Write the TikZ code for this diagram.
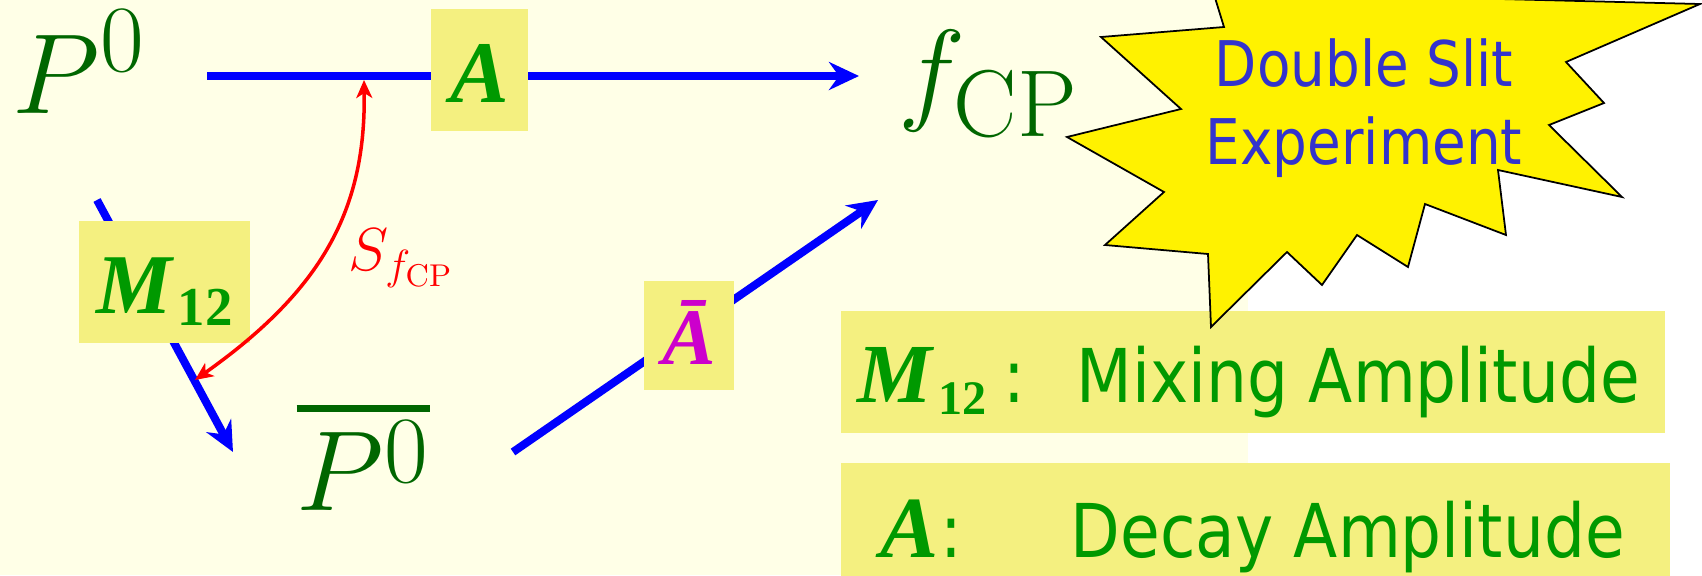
\documentclass[tikz,border=0pt]{standalone}
\usepackage{fontspec}
\usepackage{xcolor}
\usepackage{graphicx}
\usepackage{tikz}
\usetikzlibrary{arrows.meta, positioning}

\newfontfamily\tnrfont{Liberation Serif}
\newfontfamily\tahfont{DejaVu Sans}

\definecolor{cream}{RGB}{255,255,231}
\definecolor{boxyellow}{RGB}{244,240,128}
\definecolor{mathgreen}{RGB}{0,102,0}
\definecolor{textgreen}{RGB}{0,153,0}
\definecolor{slitblue}{RGB}{51,51,204}
\definecolor{ampmagenta}{RGB}{204,0,204}

\newcommand{\boldit}[1]{{\tnrfont\bfseries\itshape #1}}
\newcommand{\mixsym}[1]{\boldit{M}\kern0.06cm\raisebox{-0.12cm}{\fontsize{#1}{#1}\selectfont\tnrfont\bfseries 12}}
\newcommand{\tahoma}[1]{\scalebox{0.87}[1]{\tahfont #1}}
\newcommand{\statemath}[1]{\scalebox{1.302}{$#1$}}
\newcommand{\barstate}[1]{\vbox{\hrule height 0.07cm\kern0.09cm\hbox{#1}}}

\begin{document}
\begin{tikzpicture}[
  x=0.01cm, y=-0.01cm,
  flow/.style={draw=blue, line width=0.08cm,
    -{Stealth[length=0.3cm, width=0.28cm, inset=0.1cm]}},
  phase/.style={draw=red, line width=0.035cm,
    {Stealth[length=0.18cm, width=0.16cm, inset=0.05cm]}-{Stealth[length=0.18cm, width=0.16cm, inset=0.05cm]}},
  state/.style={anchor=base west, inner sep=0pt, text=mathgreen,
    font=\fontsize{24.88}{30}\selectfont},
  phaselabel/.style={anchor=base west, inner sep=0pt, text=red,
    font=\fontsize{17.9}{20}\selectfont},
  ampbox/.style={rectangle, fill=boxyellow, inner sep=0pt, text centered,
    text depth=0pt, text=textgreen, font=\fontsize{25}{28}\selectfont},
  legendbox/.style={rectangle, fill=boxyellow, inner sep=0pt, anchor=north west},
  legendsym/.style={anchor=base west, inner sep=0pt, text=textgreen,
    font=\fontsize{23.9}{27}\selectfont},
  legendtext/.style={anchor=base west, inner sep=0pt, text=textgreen,
    font=\fontsize{21.1}{25}\selectfont},
  slittext/.style={anchor=base, inner sep=0pt, text=slitblue,
    font=\fontsize{17.9}{20}\selectfont},
  burst/.style={fill=yellow, draw=black, line width=0.5pt, line join=miter}
]

  \useasboundingbox (0,0) rectangle (1702,575);
  \clip (0,0) rectangle (1702,575);
  \fill[cream] (0,0) rectangle (1248,575);
  \fill[white] (1248,0) rectangle (1702,575);

  % states
  \node[state] (P0) at (12,113) {\statemath{P^0}};
  \node[state] (P0bar) at (296,510) {\barstate{\statemath{P^{\raisebox{-0.1075cm}{$\scriptstyle 0$}}}}};
  \node[state] (fcp) at (898,109) {\statemath{f_{\mathrm{CP}}}};

  \coordinate (P0out) at (207,76);
  \coordinate (fcpin) at (859,76);
  \coordinate (mixout) at (97,200);
  \coordinate (mixin) at (233,452);
  \coordinate (barout) at (513,452);
  \coordinate (barin) at (878,200);
  \coordinate (phasetop) at (364,80);
  \coordinate (phasebot) at (195,380);

  \draw[flow] (P0out) -- (fcpin);
  \draw[flow] (mixout) -- (mixin);
  \draw[flow] (barout) -- (barin);

  % amplitudes on the arrows
  \node[ampbox, minimum width=0.97cm, minimum height=1.22cm, text height=0.64cm] (Abox) at (479.5,70) {\boldit{A}};
  \node[ampbox, minimum width=1.71cm, minimum height=1.22cm, text height=0.62cm, font=\fontsize{24.2}{27}\selectfont] (Mbox) at (164.5,282) {\mixsym{15.6}};
  \node[ampbox, minimum width=0.90cm, minimum height=1.09cm, text height=0.57cm, text=ampmagenta, font=\fontsize{22.8}{26}\selectfont] (Abarbox) at (689,335.5) {\boldit{Ā}};

  \draw[phase] (phasetop) .. controls (366,210) and (322,290) .. (phasebot);
  \node[phaselabel] (S) at (348,270) {$S_{f_{\mathrm{CP}}}$};

  % legend
  \node[legendbox, minimum width=8.24cm, minimum height=1.22cm] (mixbox) at (840,310) {};
  \node[legendbox, minimum width=8.29cm, minimum height=1.13cm] (decaybox) at (840,462) {};

  \filldraw[burst] (1067,137) -- (1181,109) -- (1101,37) -- (1224,27) -- (1212,-12)
    -- (1420,-3) -- (1700,4) -- (1566,62) -- (1604,103) -- (1549,125) -- (1622,197)
    -- (1498,170) -- (1506,235) -- (1425,204) -- (1408,267) -- (1357,235) -- (1322,285)
    -- (1287,252) -- (1211,327) -- (1208,254) -- (1105,245) -- (1164,192) -- cycle;
  \node[slittext] (slit1) at (1364,86) {\tahoma{Double Slit}};
  \node[slittext] (slit2) at (1364,164) {\tahoma{Experiment}};

  \node[legendsym] (mixsym) at (857,402) {\mixsym{13.7}};
  \node[legendtext] (mixcolon) at (1003,402) {\tahoma{:}};
  \node[legendtext] (mixname) at (1076,402) {\tahoma{Mixing Amplitude}};
  \node[legendsym, font=\fontsize{24.8}{28}\selectfont] (decaysym) at (880,557) {\boldit{A}};
  \node[legendtext] (decaycolon) at (940,557) {\tahoma{:}};
  \node[legendtext] (decayname) at (1070,557) {\tahoma{Decay Amplitude}};

\end{tikzpicture}
\end{document}
